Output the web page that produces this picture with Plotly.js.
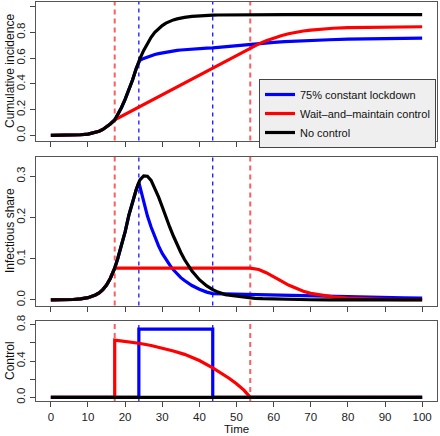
<!DOCTYPE html>
<html><head><meta charset="utf-8">
<script src="https://cdn.plot.ly/plotly-3.0.1.min.js"></script>
<style>html,body{margin:0;padding:0;background:#fff}</style>
</head><body><div id="chart" style="width:440px;height:436px"></div>
<script>
// ---- data ----
const seriesNames = ["75% constant lockdown", "Wait\u2013and\u2013maintain control", "No control"];
const seriesColors = ["#0000ff", "#ff0000", "#000000"];

// No control
const timeNC = [0,2,4,6,8,10,12,13,14,15,16,17.2,18,19,20,21,22,23,23.7,24,25,26,27,28,29,30,31,32,33,34,35,36,38,40,42,43.6,45,47,50,53.7,55,57,60,63,66,70,75,80,85,90,95,100];
const cumNC = [0.0001,0.0003,0.0008,0.002,0.0045,0.01,0.022,0.032,0.046,0.064,0.088,0.12,0.16,0.215,0.28,0.35,0.43,0.52,0.578,0.597,0.66,0.715,0.762,0.80,0.83,0.853,0.872,0.886,0.897,0.905,0.912,0.917,0.924,0.929,0.932,0.934,0.935,0.936,0.937,0.938,0.938,0.938,0.938,0.938,0.938,0.938,0.938,0.938,0.938,0.938,0.938,0.938];
const infNC = [0.0001,0.0002,0.0005,0.0011,0.0025,0.0055,0.012,0.017,0.025,0.036,0.052,0.077,0.1,0.13,0.165,0.205,0.24,0.268,0.285,0.291,0.301,0.3,0.29,0.272,0.25,0.226,0.2,0.177,0.155,0.134,0.115,0.098,0.07,0.049,0.034,0.025,0.019,0.013,0.009,0.005,0.004,0.003,0.002,0.0012,0.0008,0.0005,0.0002,0.0001,0,0,0,0];

// 75% constant lockdown (after lockdown start; before it equals no control)
const timeLD = [23.7,24,25,26,27,28,29,30,31,32,33,34,35,36,38,40,42,43.6,45,47,50,53.7,55,57,60,63,66,70,75,80,85,90,95,100];
const cumLD = [0.578,0.584,0.598,0.61,0.62,0.628,0.635,0.641,0.647,0.652,0.656,0.66,0.663,0.666,0.671,0.675,0.678,0.68,0.684,0.69,0.698,0.708,0.711,0.716,0.723,0.728,0.733,0.738,0.743,0.747,0.75,0.752,0.754,0.756];
const infLD = [0.285,0.274,0.236,0.204,0.177,0.152,0.131,0.113,0.098,0.085,0.073,0.063,0.054,0.047,0.035,0.026,0.019,0.0155,0.0152,0.0147,0.014,0.0132,0.013,0.0125,0.0118,0.011,0.0103,0.0094,0.0083,0.0074,0.0066,0.0059,0.0052,0.0046];

// Wait-and-maintain (after control start; before it equals no control)
const timeWM = [17.2,53.7,55,56,58,60,62,64,66,68,70,73,76,80,85,90,95,100];
const cumWM = [0.12,0.68,0.698,0.711,0.735,0.756,0.774,0.789,0.801,0.811,0.818,0.826,0.832,0.837,0.84,0.842,0.843,0.844];
const infWM = [0.077,0.077,0.076,0.074,0.066,0.057,0.046,0.036,0.028,0.021,0.016,0.011,0.0075,0.0045,0.0025,0.0015,0.0009,0.0005];

// Control level
const controlTimeLD = [0,23.7,23.7,43.6,43.6,100];
const controlLD = [0,0,0.75,0.75,0,0];
const controlTimeWM = [0,17.2,17.2,20,23.7,27,30,33,36,40,43.6,46,48,50,52,53.7,100];
const controlWM = [0,0,0.63,0.618,0.595,0.57,0.542,0.51,0.473,0.405,0.325,0.265,0.21,0.15,0.08,0,0];
const controlTimeNC = [0,100];
const controlNC = [0,0];

// Intervention times
const eventTimesLD = [23.7, 43.6];
const eventTimesWM = [17.2, 53.7];

const xTicks = [0,10,20,30,40,50,60,70,80,90,100];
const yTicks1 = [0,0.2,0.4,0.6,0.8,1.0];
const yTicks2 = [0,0.1,0.2,0.3];
const yTicks3 = [0,0.2,0.4,0.6,0.8];
const yTickText3 = ["0.0","","0.4","","0.8"];
const yTitles = ["Cumulative incidence", "Infectious share", "Control"];
const xTitle = "Time";

// ---- build ----
const preLD = timeNC.filter(t => t < 23.7);
const preWM = timeNC.filter(t => t < 17.2);
const ldX = preLD.concat(timeLD);
const wmX = preWM.concat(timeWM);
const ldCum = cumNC.slice(0, preLD.length).concat(cumLD);
const ldInf = infNC.slice(0, preLD.length).concat(infLD);
const wmCum = cumNC.slice(0, preWM.length).concat(cumWM);
const wmInf = infNC.slice(0, preWM.length).concat(infWM);

const LW = 3.2;
function tr(x, y, i, ax, show) {
  return {x: x, y: y, type: 'scatter', mode: 'lines', name: seriesNames[i],
    line: {color: seriesColors[i], width: LW}, xaxis: 'x' + ax, yaxis: 'y' + ax,
    showlegend: show, hoverinfo: 'skip'};
}
const data = [
  tr(ldX, ldCum, 0, '', true), tr(wmX, wmCum, 1, '', true), tr(timeNC, cumNC, 2, '', true),
  tr(ldX, ldInf, 0, '2', false), tr(wmX, wmInf, 1, '2', false), tr(timeNC, infNC, 2, '2', false),
  tr(controlTimeLD, controlLD, 0, '3', false), tr(controlTimeWM, controlWM, 1, '3', false), tr(controlTimeNC, controlNC, 2, '3', false)
];

const shapes = [];
['', '2', '3'].forEach(ax => {
  eventTimesWM.forEach(t => shapes.push({type: 'line', xref: 'x' + ax, yref: 'y' + ax + ' domain',
    x0: t, x1: t, y0: 0, y1: 1, layer: 'below', line: {color: 'rgba(255,40,40,0.75)', width: 2, dash: '5px,4px'}}));
  eventTimesLD.forEach(t => shapes.push({type: 'line', xref: 'x' + ax, yref: 'y' + ax + ' domain',
    x0: t, x1: t, y0: 0, y1: 1, layer: 'below', line: {color: '#0000ff', width: 1.2, dash: '4px,4px'}}));
});

const FONT = 'Liberation Sans, Arial, Helvetica, sans-serif';
const H = 436;
const dom = (top, bot) => [(H - bot) / H, (H - top) / H];
const baseX = {range: [-4, 104], tickvals: xTicks, ticks: 'outside', ticklen: 5, tickcolor: '#444',
  showline: true, mirror: true, linecolor: '#555', linewidth: 1, showgrid: false, zeroline: false,
  tickfont: {size: 11.5, color: '#222'}};
const baseY = {ticks: 'outside', ticklen: 5, tickcolor: '#444', tickangle: -90,
  showline: true, mirror: true, linecolor: '#555', linewidth: 1, showgrid: false, zeroline: false,
  tickfont: {size: 11.5, color: '#222'}};

const layout = {
  width: 440, height: 436,
  margin: {l: 36, r: 3, t: 0, b: 0},
  paper_bgcolor: '#fff', plot_bgcolor: '#fff',
  font: {family: FONT, color: '#222'},
  showlegend: true,
  xaxis: Object.assign({}, baseX, {anchor: 'y', showticklabels: false}),
  xaxis2: Object.assign({}, baseX, {anchor: 'y2', showticklabels: false}),
  xaxis3: Object.assign({}, baseX, {anchor: 'y3', showticklabels: true}),
  yaxis: Object.assign({}, baseY, {domain: dom(1.5, 140.5), range: [-0.04, 1.04], tickvals: yTicks1, tickformat: '.1f', anchor: 'x'}),
  yaxis2: Object.assign({}, baseY, {domain: dom(157, 305.5), range: [-0.0135, 0.3467], tickvals: yTicks2, tickformat: '.1f', anchor: 'x2'}),
  yaxis3: Object.assign({}, baseY, {domain: dom(321, 401), range: [-0.04, 0.84], tickvals: yTicks3, ticktext: yTickText3, anchor: 'x3'}),
  legend: {x: (259 - 36) / 401, y: (H - 79) / H, xanchor: 'left', yanchor: 'top',
    bgcolor: '#efefef', bordercolor: '#444', borderwidth: 1, tracegroupgap: 0,
    font: {size: 11, color: '#111'}},
  shapes: shapes,
  annotations: [
    {text: yTitles[0], xref: 'paper', yref: 'paper', x: (10 - 36) / 401, y: (H - 71) / H, textangle: -90, showarrow: false, font: {size: 12, color: '#111'}, xanchor: 'center', yanchor: 'middle'},
    {text: yTitles[1], xref: 'paper', yref: 'paper', x: (10 - 36) / 401, y: (H - 231) / H, textangle: -90, showarrow: false, font: {size: 12, color: '#111'}, xanchor: 'center', yanchor: 'middle'},
    {text: yTitles[2], xref: 'paper', yref: 'paper', x: (10 - 36) / 401, y: (H - 361) / H, textangle: -90, showarrow: false, font: {size: 12, color: '#111'}, xanchor: 'center', yanchor: 'middle'},
    {text: xTitle, xref: 'paper', yref: 'paper', x: 0.5, y: (H - 429) / H, showarrow: false, font: {size: 11.5, color: '#111'}, xanchor: 'center', yanchor: 'middle'}
  ]
};

Plotly.newPlot('chart', data, layout, {staticPlot: true, displayModeBar: false});
</script></body></html>
